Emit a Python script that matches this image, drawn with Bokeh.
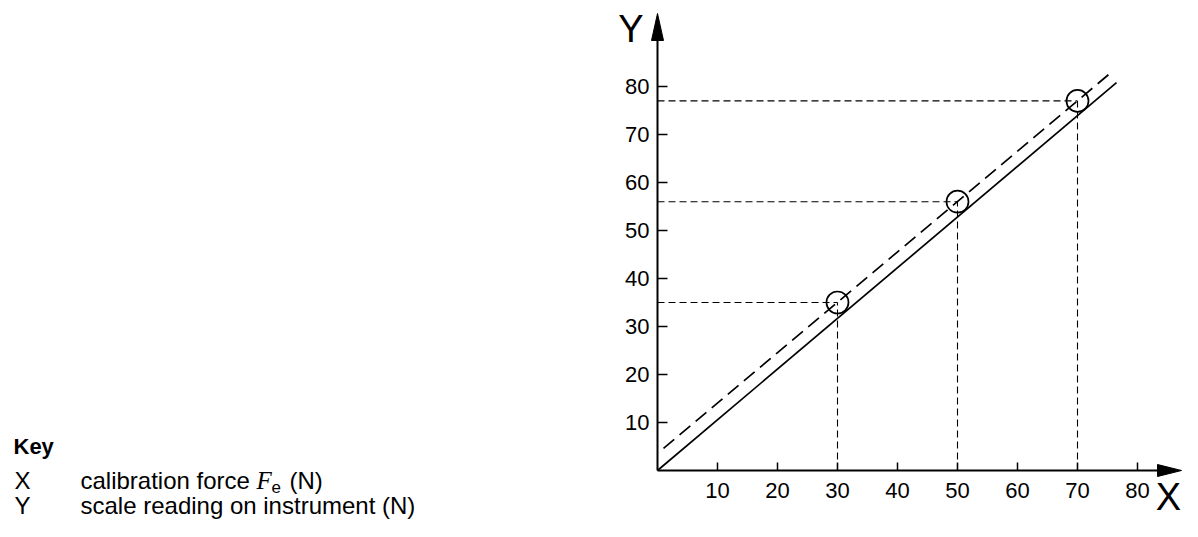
from bokeh.plotting import figure
from bokeh.models import Range1d, FixedTicker, Label
from bokeh.embed import file_html
from bokeh.resources import INLINE

# ---- data ----
meas_x = [30, 50, 70]          # calibration force (N)
meas_y = [35, 56, 77]          # scale reading (N)
fit_x = [1.0, 75.3]            # dashed line through readings
fit_y = [4.6, 82.6]
ideal_x = [0.0, 76.5]          # solid ideal line
ideal_y = [0.0, 80.8]
x_ticks = [10, 20, 30, 40, 50, 60, 70, 80]
y_ticks = [10, 20, 30, 40, 50, 60, 70, 80]
key_title = "Key"
key_rows = [("X", "calibration force ", "F", "e", "(N)"),
            ("Y", "scale reading on instrument (N)", None, None, None)]

# ---- layout (canvas pixels) ----
W, H = 1182, 521
X0_PX, Y0_PX = 657, 470      # origin on canvas
SX, SY = 6.0, 4.8            # px per unit
BASE_CORR = 0.37             # label baseline correction (fraction of font size)

def dx(px):
    return (px - X0_PX) / SX

def dy(py):
    return (Y0_PX - py) / SY

def by_(py, size):
    return dy(py - BASE_CORR * size)

p = figure(width=W, height=H, output_backend="svg", toolbar_location=None,
           x_range=Range1d(dx(0), dx(W)), y_range=Range1d(dy(H), dy(0)),
           min_border=0, outline_line_color=None, background_fill_color="white")
p.grid.visible = False

FONT = "Liberation Sans"
for ax, ticks, tin, so in ((p.xaxis, x_ticks, 8, 12), (p.yaxis, y_ticks, 10, 8)):
    ax.fixed_location = 0
    ax.ticker = FixedTicker(ticks=ticks)
    ax.minor_tick_line_color = None
    ax.major_tick_in = tin
    ax.major_tick_out = 0
    ax.major_tick_line_width = 1.5
    ax.major_tick_line_color = "black"
    ax.axis_line_width = 2
    ax.axis_line_color = "black"
    ax.major_label_text_font = FONT
    ax.major_label_text_font_size = "22px"
    ax.major_label_text_color = "black"
    ax.major_label_standoff = so
p.xaxis.bounds = (0, dx(1162))
p.yaxis.bounds = (0, dy(38))

# arrow heads
xt = dx(1181)
p.patch([xt - 24 / SX, xt, xt - 24 / SX], [-6 / SY, 0, 6 / SY], color="black")
yt = dy(13)
p.patch([-6 / SX, 0, 6 / SX], [yt - 27 / SY, yt, yt - 27 / SY], color="black")

# reference dashed lines
zeros = [0] * len(meas_x)
p.segment(x0=zeros, y0=meas_y, x1=meas_x, y1=meas_y, line_color="black",
          line_width=1.1, line_dash="7 4")
p.segment(x0=meas_x, y0=zeros, x1=meas_x, y1=meas_y, line_color="black",
          line_width=1.1, line_dash="7 4")

# lines
p.line(ideal_x, ideal_y, line_color="black", line_width=1.7)
p.line(fit_x, fit_y, line_color="black", line_width=1.7, line_dash="14 7")

# measured points
p.scatter(meas_x, meas_y, marker="circle", size=22, fill_color=None,
          line_color="black", line_width=1.7)

# axis letters
p.add_layout(Label(x=dx(643), y=by_(43, 38), text="Y", text_font=FONT, text_font_size="38px",
                   text_align="right", text_baseline="alphabetic", text_color="black"))
p.add_layout(Label(x=dx(1168), y=by_(511, 38), text="X", text_font=FONT, text_font_size="38px",
                   text_align="center", text_baseline="alphabetic", text_color="black"))

# key
p.add_layout(Label(x=dx(13), y=by_(454, 22), text=key_title, text_font=FONT,
                   text_font_size="22px", text_font_style="bold",
                   text_baseline="alphabetic", text_color="black"))
row_base = [489, 514]
for (letter, txt, sym, sub, tail), b in zip(key_rows, row_base):
    p.add_layout(Label(x=dx(14), y=by_(b, 24), text=letter, text_font=FONT,
                       text_font_size="24px", text_baseline="alphabetic", text_color="black"))
    p.add_layout(Label(x=dx(80), y=by_(b, 24), text=txt, text_font=FONT,
                       text_font_size="24px", text_baseline="alphabetic", text_color="black"))
    if sym:
        p.add_layout(Label(x=dx(256), y=by_(b, 25), text=sym, text_font="Liberation Serif",
                           text_font_style="italic", text_font_size="25px",
                           text_baseline="alphabetic", text_color="black"))
        p.add_layout(Label(x=dx(271), y=by_(b + 4, 17), text=sub, text_font=FONT,
                           text_font_size="17px", text_baseline="alphabetic", text_color="black"))
        p.add_layout(Label(x=dx(289), y=by_(b, 24), text=tail, text_font=FONT,
                           text_font_size="24px", text_baseline="alphabetic", text_color="black"))

open("out.html", "w").write(file_html(p, INLINE))
